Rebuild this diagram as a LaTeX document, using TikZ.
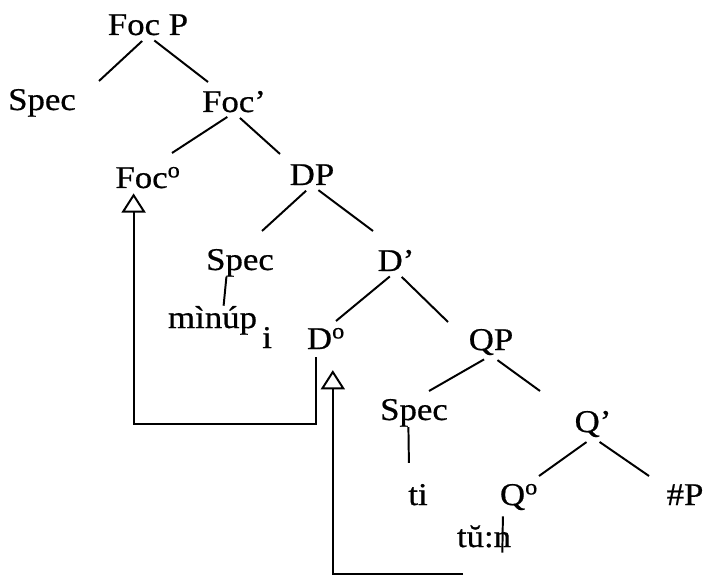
\documentclass[tikz,border=0pt]{standalone}
\usepackage{fontspec}
\setmainfont{Liberation Serif}[FakeStretch=1.1, FakeBold=0.6]
\usetikzlibrary{arrows.meta}

\begin{document}
\begin{tikzpicture}[
    x=0.025cm, y=-0.025cm,
    word/.style={anchor=base, inner sep=0pt, font=\fontsize{22.5}{27}\selectfont},
    branch/.style={line width=1.4pt, shorten <=0.2cm},
    bar/.style={line width=1.4pt},
    move/.style={line width=1.4pt, -{Triangle[open, length=0.48cm, width=0.6cm]}}
]
\useasboundingbox (0,0) rectangle (707,576);

% Labels
\node[word] (fp) at (148,35) {Foc P};
\node[word] (spec1) at (42,110) {Spec};
\node[word] (focb) at (234,112) {Foc’};
\node[word] (foco) at (148,188) {Foc\textsuperscript{o}};
\node[word] (dp) at (312,185) {DP};
\node[word] (spec2) at (240,270) {Spec};
\node[word] (db) at (396,271) {D’};
\node[word] (minup) at (220,328) {mìnúp\,\raisebox{-0.5cm}{i}};
\node[word] (do) at (326,349) {D\textsuperscript{o}};
\node[word] (qp) at (491,350) {QP};
\node[word] (spec3) at (414,420) {Spec};
\node[word] (qb) at (593,432) {Q’};
\node[word] (ti) at (418,505) {ti};
\node[word] (qo) at (519,505) {Q\textsuperscript{o}};
\node[word] (hp) at (685,505) {\#P};
\node[word] (tun) at (484,547) {tŭ:n};

% Branch ends
\coordinate (fp-l) at (99,81);
\coordinate (fp-r) at (208,82);
\coordinate (focb-l) at (172,153);
\coordinate (focb-r) at (280,154);
\coordinate (dp-l) at (262,231);
\coordinate (dp-r) at (373,231);
\coordinate (db-l) at (336,321);
\coordinate (db-r) at (448,322);
\coordinate (qp-l) at (429,391);
\coordinate (qp-r) at (540,391);
\coordinate (qb-l) at (539,476);
\coordinate (qb-r) at (649,476);
\coordinate (tail) at (463,574);

% Branches
\draw[branch] (fp.south) -- (fp-l);
\draw[branch] (fp.south) -- (fp-r);
\draw[branch] (focb.south) -- (focb-l);
\draw[branch] (focb.south) -- (focb-r);
\draw[branch] (dp.south) -- (dp-l);
\draw[branch] (dp.south) -- (dp-r);
\draw[branch] (db.south) -- (db-l);
\draw[branch] (db.south) -- (db-r);
\draw[branch] (qp.south) -- (qp-l);
\draw[branch] (qp.south) -- (qp-r);
\draw[branch] (qb.south) -- (qb-l);
\draw[branch] (qb.south) -- (qb-r);

% Lexical bars
\draw[bar] ([xshift=-0.34cm]spec2.south) -- ([xshift=0.09cm]minup.north);
\draw[bar, shorten >=0.52cm] ([xshift=-0.14cm]spec3.south) -- ([xshift=-0.22cm]ti.north);
\draw[bar, shorten <=0.15cm, shorten >=-0.12cm] ([xshift=-0.4cm]qo.south) -- ([xshift=0.46cm]tun.south);

% Movement
\draw[move, shorten <=0.2cm, shorten >=0.12cm] ([xshift=-0.26cm]do.south) -- ++(0,75) -| ([xshift=-0.36cm]foco.south);
\draw[move, shorten >=0.52cm] (tail) -| ([xshift=0.17cm]do.south);

\end{tikzpicture}
\end{document}
